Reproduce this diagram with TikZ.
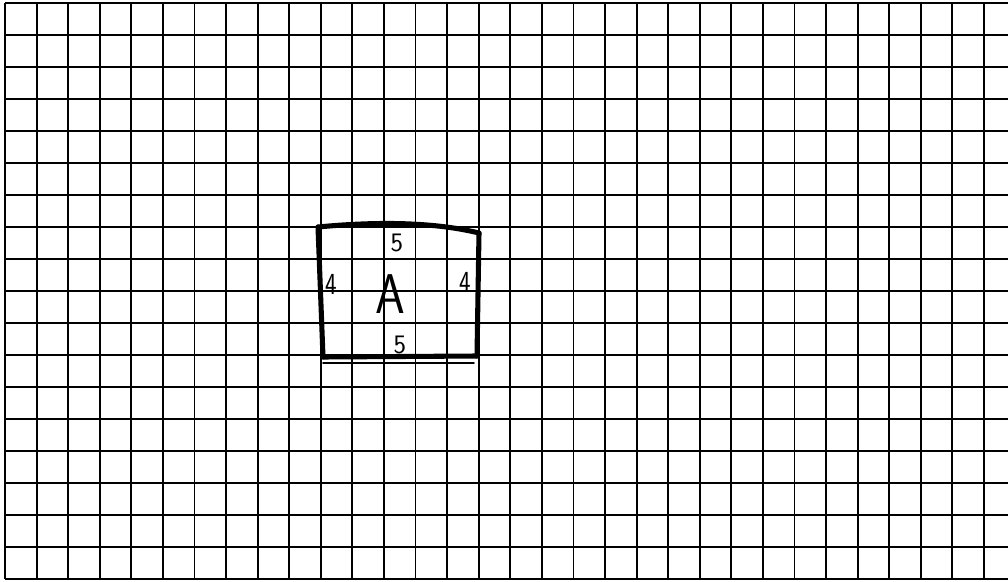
\documentclass[tikz,border=0pt]{standalone}
\begin{document}
\begin{tikzpicture}[x=0.75pt,y=-0.75pt,
  gridline/.style={black,line width=1.4pt},
  edge/.style={black,line width=3.8pt,line cap=round,line join=round},
  thinedge/.style={black,line width=1.2pt,line cap=round},
  dim/.style={font=\sffamily\fontsize{20}{20}\selectfont,inner sep=0pt},
  dimtall/.style={font=\sffamily\fontsize{23}{23}\selectfont,inner sep=0pt,xscale=0.8},
  big/.style={font=\sffamily\fontsize{42}{42}\selectfont,inner sep=0pt,xscale=0.85}]
\useasboundingbox[fill=white] (0,0) rectangle (1008,582);
% grid
\foreach \k in {0,...,31} {
  \draw[gridline] ({5+31.58*\k},3) -- ({5+31.58*\k},579);
}
\foreach \k in {0,...,18} {
  \draw[gridline] (5,{3+32*\k}) -- (1008,{3+32*\k});
}
% rectangle A
\coordinate (tl) at (318,227);
\coordinate (tr) at (479,233);
\coordinate (br) at (477,356);
\coordinate (bl) at (323,357);
\draw[edge] (tl) .. controls (370,222) and (430,221) .. (tr);
\draw[edge] (tr) -- (br);
\draw[edge] (br) -- (bl);
\draw[edge] (bl) -- (tl);
\coordinate (ul) at (323,363);
\coordinate (ur) at (474,363);
\draw[thinedge] (ul) -- (ur);
% labels
\node[dim] (top) at (397,243) {5};
\node[dim] (bot) at (400,345) {5};
\node[dimtall] (left) at (331,284) {4};
\node[dimtall] (right) at (465,282) {4};
\node[big] (A) at (390,294) {A};
\end{tikzpicture}
\end{document}
